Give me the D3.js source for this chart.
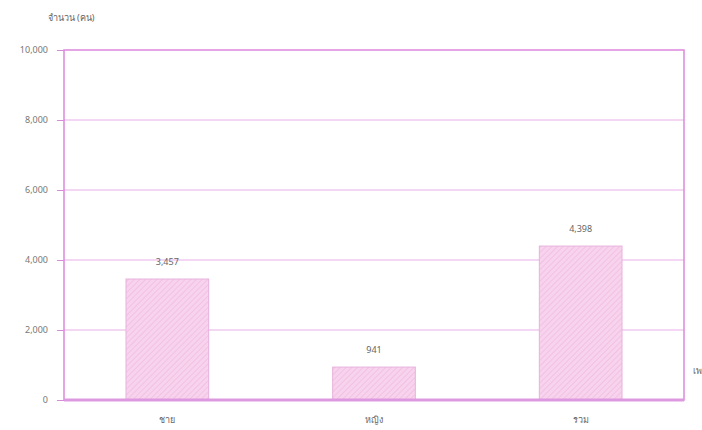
<!DOCTYPE html>
<html><head><meta charset="utf-8">
<script src="https://cdn.jsdelivr.net/npm/d3@7"></script>
<style>body{margin:0;background:#fff}text{font-family:"Noto Sans","DejaVu Sans",sans-serif}</style>
</head><body>
<svg id="c" width="702" height="430"></svg>
<script>
const categories = ["ชาย", "หญิง", "รวม"];
const values = [3457, 941, 4398];
const valueLabels = ["3,457", "941", "4,398"];
const yTicks = [0, 2000, 4000, 6000, 8000, 10000];
const yTitle = "จำนวน (คน)";
const xTitle = "เพศ";

const svg = d3.select("#c");
const m = {l: 64, r: 18, t: 50, b: 30};
const W = 702, H = 430;
const x = d3.scaleBand().domain(categories).range([m.l, W - m.r]).paddingInner(0.6).paddingOuter(0.3);
const y = d3.scaleLinear().domain([0, 10000]).range([H - m.b, m.t]);

const defs = svg.append("defs");
const pat = defs.append("pattern").attr("id", "hatch").attr("patternUnits", "userSpaceOnUse")
  .attr("width", 4).attr("height", 4).attr("patternTransform", "rotate(45)");
pat.append("rect").attr("width", 4).attr("height", 4).attr("fill", "#f8d3ee");
pat.append("line").attr("x1", 0).attr("y1", 0).attr("x2", 0).attr("y2", 4)
  .attr("stroke", "#eab0d8").attr("stroke-width", 1);

// grid
svg.append("g").selectAll("line").data(yTicks.slice(1, -1)).join("line")
  .attr("x1", m.l).attr("x2", W - m.r).attr("y1", d => y(d)).attr("y2", d => y(d))
  .attr("stroke", "#e7aee7").attr("stroke-width", 1);

// y axis
const ya = svg.append("g").attr("transform", `translate(${m.l},0)`)
  .call(d3.axisLeft(y).tickValues(yTicks).tickFormat(d3.format(",")).tickSize(7).tickPadding(9));
ya.select(".domain").remove();
ya.selectAll("line").attr("stroke", "#d88bd8");
ya.selectAll("text").attr("fill", "#777").attr("font-size", 9);

// bars
svg.append("g").selectAll("rect").data(values).join("rect")
  .attr("x", (d, i) => x(categories[i])).attr("width", x.bandwidth())
  .attr("y", d => y(d)).attr("height", d => y(0) - y(d))
  .attr("fill", "url(#hatch)").attr("stroke", "#e8b2dc").attr("stroke-width", 1);

// value labels
svg.append("g").selectAll("text").data(values).join("text")
  .attr("x", (d, i) => x(categories[i]) + x.bandwidth() / 2).attr("y", d => y(d) - 14)
  .attr("text-anchor", "middle").attr("font-size", 9).attr("fill", "#666")
  .text((d, i) => valueLabels[i]);

// frame
svg.append("rect").attr("x", m.l).attr("y", m.t).attr("width", W - m.r - m.l).attr("height", H - m.b - m.t)
  .attr("fill", "none").attr("stroke", "#dd88dd").attr("stroke-width", 1.5);
svg.append("line").attr("x1", m.l).attr("x2", W - m.r).attr("y1", y(0)).attr("y2", y(0))
  .attr("stroke", "#dd99e0").attr("stroke-width", 3);

// x axis labels
const xa = svg.append("g").attr("transform", `translate(0,${y(0)})`)
  .call(d3.axisBottom(x).tickSize(0).tickPadding(17));
xa.select(".domain").remove();
xa.selectAll("text").attr("fill", "#666").attr("font-size", 9);

svg.append("text").attr("x", 71).attr("y", 21).attr("text-anchor", "middle")
  .attr("font-size", 9).attr("fill", "#666").text(yTitle);
svg.append("text").attr("x", 693).attr("y", 374).attr("font-size", 9).attr("fill", "#666").text(xTitle);
</script>
</body></html>
